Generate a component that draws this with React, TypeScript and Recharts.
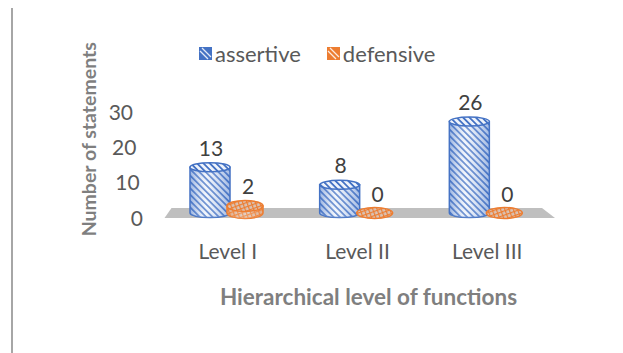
import React from 'react';
import { BarChart, Bar, XAxis, YAxis, Legend, LabelList, ReferenceArea } from 'recharts';

const categories = ['Level I', 'Level II', 'Level III'];
const assertive = [13, 8, 26];
const defensive = [2, 0, 0];
const yTicks = [0, 10, 20, 30];

const data = categories.map((level, i) => ({
  level,
  assertive: assertive[i],
  defensive: defensive[i],
}));

const FONT = 'Lato, "Liberation Sans", sans-serif';
const BLUE = '#4472C4';
const ORANGE = '#ED7D31';

// 3D-looking cylinder drawn around the bar Recharts computes
const Cylinder = (props: any) => {
  const { x, y, width, height, kind } = props;
  const isA = kind === 'a';
  const cx = x + width / 2;
  const rx = isA ? 20 : 18;
  const ry = isA ? 4.5 : 5.5;
  const yt = y - 4;
  const yb = y + Math.max(height, 0) - 4;
  const l = cx - rx;
  const r = cx + rx;
  const stroke = isA ? BLUE : ORANGE;
  const body = `M${l},${yt} L${l},${yb} A${rx},${ry} 0 0 0 ${r},${yb} L${r},${yt} Z`;
  return (
    <g>
      {yb - yt > 0.5 && (
        <>
          <path d={body} fill={`url(#pat-${kind})`} stroke={stroke} strokeWidth={1.5} />
          <path d={body} fill={`url(#shade-${kind})`} stroke="none" />
        </>
      )}
      <ellipse cx={cx} cy={yt} rx={rx} ry={ry} fill={`url(#pat-${kind})`} stroke={stroke} strokeWidth={1.5} />
    </g>
  );
};

const makeLabel = (dx: number) => (p: any) => {
  const vb = p.viewBox ?? p;
  return (
    <text
      x={vb.x + vb.width / 2 + dx}
      y={vb.y - 24}
      textAnchor="middle"
      dominantBaseline="central"
      fontSize={21}
      fill="#404040"
      fontFamily={FONT}
    >
      {p.value}
    </text>
  );
};

const Floor = (p: any) => {
  const { x, y, width } = p;
  const pts = [
    [x + 1.5, y + 1],
    [x + 8.5, y - 9],
    [x + width - 10, y - 9],
    [x + width + 3, y + 1],
  ]
    .map((q) => q.join(','))
    .join(' ');
  return <polygon points={pts} fill="#BFBFBF" />;
};

const XTick = (p: any) => (
  <text x={p.x} y={p.y + 25} textAnchor="middle" dominantBaseline="central" fontSize={21} fill="#595959" fontFamily={FONT}>
    {p.payload.value}
  </text>
);

const YTick = (p: any) => (
  <text
    x={p.x - 12 - p.payload.value / 3}
    y={p.y}
    textAnchor="end"
    dominantBaseline="central"
    fontSize={21}
    fill="#595959"
    fontFamily={FONT}
  >
    {p.payload.value}
  </text>
);

const LegendIcon = ({ color }: { color: string }) => (
  <svg width={13} height={13} style={{ marginRight: 3 }}>
    <rect x={0} y={0} width={13} height={13} fill={color} />
    <path d="M3,1 L12,10 M1,4 L9,12" stroke="#ffffff" strokeWidth={1.3} opacity={0.85} />
  </svg>
);

const renderLegend = () => (
  <div style={{ display: 'flex', alignItems: 'center', fontFamily: FONT, fontSize: 22, color: '#595959' }}>
    <LegendIcon color={BLUE} />
    <span style={{ marginRight: 26 }}>assertive</span>
    <LegendIcon color={ORANGE} />
    <span>defensive</span>
  </div>
);

export default function App() {
  return (
    <div
      style={{
        marginTop: -4,
        marginLeft: 3,
        borderTop: '2px solid #A6A6A6',
        borderLeft: '2px solid #A6A6A6',
        width: 610,
        height: 347,
        background: '#fff',
      }}
    >
      <BarChart
        width={610}
        height={347}
        data={data}
        margin={{ top: 105.5, right: 71, left: 90, bottom: 96 }}
        barSize={34}
        barGap={1}
      >
        <defs>
          <pattern id="pat-a" width={4.5} height={4.5} patternUnits="userSpaceOnUse" patternTransform="rotate(-45)">
            <rect width={4.5} height={4.5} fill="#EEF3FB" />
            <rect width={1.8} height={4.5} fill={BLUE} />
          </pattern>
          <pattern id="pat-d" width={4} height={4} patternUnits="userSpaceOnUse" patternTransform="rotate(-20)">
            <rect width={4} height={4} fill="#D9C4B8" />
            <rect width={1.2} height={4} fill={ORANGE} />
            <rect width={4} height={1.2} fill={ORANGE} />
          </pattern>
          <linearGradient id="shade-a" x1="0" y1="0" x2="1" y2="0">
            <stop offset="0%" stopColor={BLUE} stopOpacity={0.5} />
            <stop offset="40%" stopColor="#ffffff" stopOpacity={0.25} />
            <stop offset="100%" stopColor={BLUE} stopOpacity={0.45} />
          </linearGradient>
          <linearGradient id="shade-d" x1="0" y1="0" x2="1" y2="0">
            <stop offset="0%" stopColor={ORANGE} stopOpacity={0.3} />
            <stop offset="50%" stopColor="#ffffff" stopOpacity={0.2} />
            <stop offset="100%" stopColor={ORANGE} stopOpacity={0.3} />
          </linearGradient>
        </defs>
        <ReferenceArea y1={0} y2={0} shape={<Floor />} ifOverflow="visible" />
        <XAxis
          dataKey="level"
          axisLine={false}
          tickLine={false}
          height={40}
          tick={<XTick />}
          label={{
            content: (p: any) => (
              <text
                x={p.viewBox.x + p.viewBox.width / 2 + 11}
                y={p.viewBox.y + 79}
                textAnchor="middle"
                dominantBaseline="central"
                fontSize={22.5}
                fontWeight="bold"
                fill="#7F7F7F"
                fontFamily={FONT}
              >
                Hierarchical level of functions
              </text>
            ),
          }}
        />
        <YAxis
          domain={[0, 30]}
          ticks={yTicks}
          axisLine={false}
          tickLine={false}
          width={60}
          tick={<YTick />}
          label={{
            content: (p: any) => {
              const cx = p.viewBox.x - 15;
              const cy = p.viewBox.y + p.viewBox.height / 2 - 25;
              return (
                <text
                  x={cx}
                  y={cy}
                  transform={`rotate(-90, ${cx}, ${cy})`}
                  textAnchor="middle"
                  dominantBaseline="central"
                  fontSize={19.5}
                  fontWeight="bold"
                  fill="#7F7F7F"
                  fontFamily={FONT}
                >
                  Number of statements
                </text>
              );
            },
          }}
        />
        <Legend
          layout="horizontal"
          verticalAlign="middle"
          align="center"
          wrapperStyle={{ top: 34, left: 186, width: 340, height: 26 }}
          content={renderLegend}
        />
        <Bar dataKey="assertive" isAnimationActive={false} shape={(p: any) => <Cylinder {...p} kind="a" />}>
          <LabelList dataKey="assertive" content={makeLabel(1)} />
        </Bar>
        <Bar dataKey="defensive" isAnimationActive={false} shape={(p: any) => <Cylinder {...p} kind="d" />}>
          <LabelList dataKey="defensive" content={makeLabel(3)} />
        </Bar>
      </BarChart>
    </div>
  );
}
